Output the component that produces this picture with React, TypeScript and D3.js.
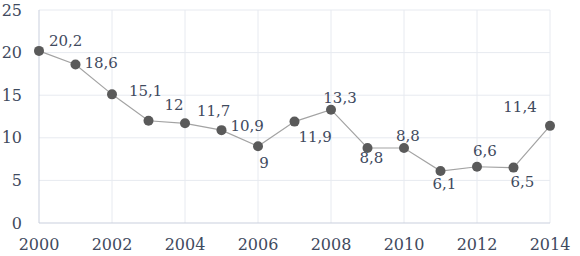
import React from 'react';
import * as d3 from 'd3';

const years = [2000, 2001, 2002, 2003, 2004, 2005, 2006, 2007, 2008, 2009, 2010, 2011, 2012, 2013, 2014];
const values = [20.2, 18.6, 15.1, 12, 11.7, 10.9, 9, 11.9, 13.3, 8.8, 8.8, 6.1, 6.6, 6.5, 11.4];
const yTicks = [0, 5, 10, 15, 20, 25];
const xTicks = [2000, 2002, 2004, 2006, 2008, 2010, 2012, 2014];

// label placement next to each point: [anchor, dx, dy]
const labelPos: [string, number, number][] = [
  ['start', 10, -5], ['start', 9, 3], ['start', 17, 2], ['start', 16, -11],
  ['start', 12, -7], ['start', 9, 1], ['middle', 6, 22], ['start', 4, 20],
  ['middle', 9, -7], ['middle', 4, 15], ['middle', 4, -7], ['middle', 4, 18],
  ['middle', 8, -11], ['middle', 9, 19], ['middle', -30, -14],
];

const W = 580, H = 256;
const left = 39, right = 550, top = 10, bottom = 223;
const textColor = '#3f4a5e';

const fmt = (v: number) => String(v).replace('.', ',');

export default function App() {
  const x = d3.scaleLinear().domain([2000, 2014]).range([left, right]);
  const y = d3.scaleLinear().domain([0, 25]).range([bottom, top]);
  const line = d3.line<number>().x((_, i) => x(years[i])).y(d => y(d));

  return (
    <svg width={W} height={H}
      style={{ position: 'absolute', left: 0, top: 0, background: '#fff', fontFamily: "'DejaVu Serif', serif" }}>
      {yTicks.filter(t => t > 0).map(t => (
        <line key={'h' + t} x1={left} x2={right} y1={y(t)} y2={y(t)} stroke="#e7eaf0" strokeWidth={1} />
      ))}
      {xTicks.filter(t => t > 2000).map(t => (
        <line key={'v' + t} x1={x(t)} x2={x(t)} y1={top} y2={bottom} stroke="#e7eaf0" strokeWidth={1} />
      ))}
      <line x1={left} x2={left} y1={top} y2={bottom} stroke="#c9cfdd" />
      <line x1={left} x2={right} y1={bottom} y2={bottom} stroke="#c9cfdd" />
      {yTicks.map(t => (
        <text key={'yl' + t} x={22} y={y(t)} dy="0.35em" textAnchor="end" fontSize={16}
          fill={textColor}>{t}</text>
      ))}
      {xTicks.map(t => (
        <text key={'xl' + t} x={x(t)} y={250} textAnchor="middle" fontSize={16}
          fill={textColor}>{t}</text>
      ))}
      <path d={line(values) || ''} fill="none" stroke="#a3a3a3" strokeWidth={1.2} />
      {values.map((v, i) => (
        <circle key={'c' + i} cx={x(years[i])} cy={y(v)} r={5} fill="#5a5a5a" />
      ))}
      {values.map((v, i) => (
        <text key={'l' + i} x={x(years[i]) + labelPos[i][1]} y={y(v) + labelPos[i][2]}
          textAnchor={labelPos[i][0] as any} fontSize={15} fill={textColor}>{fmt(v)}</text>
      ))}
    </svg>
  );
}
